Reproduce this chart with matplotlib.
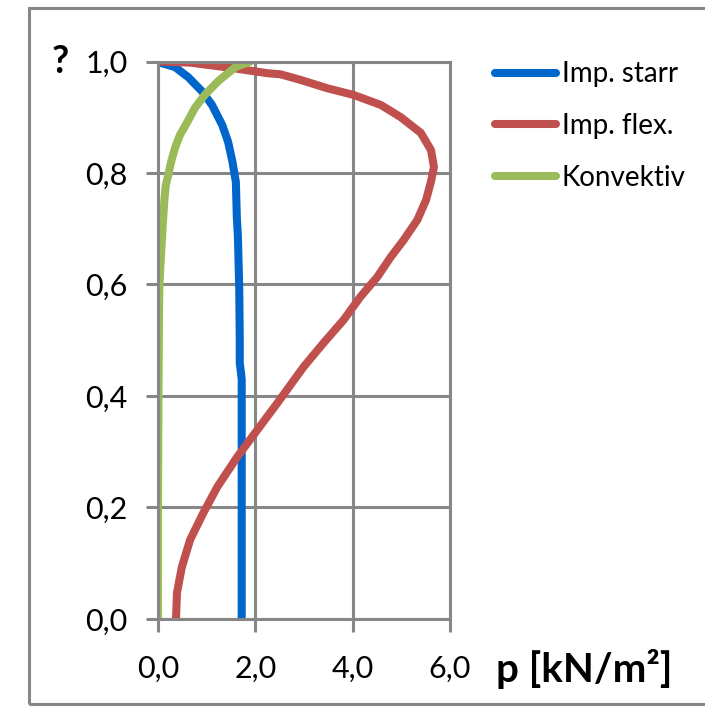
import matplotlib.pyplot as plt
from matplotlib.patches import Rectangle
from matplotlib.ticker import FuncFormatter

# values (p in kN/m², relative height)
starr_p = [1.72, 1.72, 1.72, 1.72, 1.68, 1.68, 1.67, 1.65, 1.64, 1.62, 1.60, 1.53, 1.44, 1.32, 1.11, 0.91, 0.62, 0.35, 0.04, 0.0]
starr_h = [0.0, 0.2, 0.34, 0.43, 0.46, 0.50, 0.59, 0.66, 0.69, 0.72, 0.784, 0.82, 0.856, 0.886, 0.922, 0.946, 0.972, 0.99, 0.998, 1.0]

flex_p = [0.37, 0.39, 0.49, 0.66, 0.93, 1.22, 1.63, 2.04, 2.45, 2.99, 3.40, 3.81, 4.16, 4.51, 4.78, 5.05, 5.33,
          5.51, 5.61, 5.67, 5.61, 5.40, 4.99, 4.58, 4.02, 3.48, 2.93, 2.52, 2.25, 1.55, 0.66, 0.0]
flex_h = [0.0, 0.047, 0.093, 0.142, 0.19, 0.237, 0.291, 0.339, 0.387, 0.452, 0.495, 0.536, 0.578, 0.614, 0.649, 0.68, 0.716,
          0.752, 0.785, 0.811, 0.841, 0.872, 0.90, 0.922, 0.94, 0.952, 0.967, 0.977, 0.979, 0.988, 0.998, 1.0]

konv_p = [0.0, 0.0, 0.01, 0.02, 0.03, 0.06, 0.10, 0.13, 0.16, 0.21, 0.27, 0.35, 0.45, 0.60, 0.76, 0.97, 1.24, 1.59, 1.90]
konv_h = [0.0, 0.2, 0.4, 0.55, 0.60, 0.65, 0.71, 0.75, 0.778, 0.796, 0.82, 0.845, 0.868, 0.891, 0.917, 0.941, 0.965, 0.99, 1.0]

labels = ['Imp. starr', 'Imp. flex.', 'Konvektiv']
colors = ['#0066CC', '#C0504D', '#9BBB59']
x_ticks = [0, 2, 4, 6]
y_ticks = [0.0, 0.2, 0.4, 0.6, 0.8, 1.0]

plt.rcParams['font.family'] = ['Lato', 'DejaVu Sans']
grey = '#878787'
fs = 22

fig = plt.figure(figsize=(7.05, 7.07), dpi=100)
ax = fig.add_axes([0.2241, 0.1245, 0.4142, 0.7885])

for p, h, lab, c in zip([starr_p, flex_p, konv_p], [starr_h, flex_h, konv_h], labels, colors):
    ax.plot(p, h, color=c, lw=5.8, label=lab, solid_capstyle='round', solid_joinstyle='round')

ax.set_xlim(0, 6)
ax.set_ylim(0, 1)
ax.set_xticks(x_ticks)
ax.set_yticks(y_ticks)
fmt = FuncFormatter(lambda v, pos: f'{v:.1f}'.replace('.', ','))
ax.xaxis.set_major_formatter(fmt)
ax.yaxis.set_major_formatter(fmt)
ax.grid(True, color=grey, lw=2.2)
ax.set_axisbelow(True)
for s in ax.spines.values():
    s.set_color(grey)
    s.set_linewidth(2.2)
ax.tick_params(axis='both', length=9, width=2.2, color=grey, labelsize=fs)
ax.tick_params(axis='y', pad=13)
ax.tick_params(axis='x', pad=17)

fig.text(0.085, 0.912, '?', fontsize=27, fontweight='bold', ha='center', va='center')
fig.text(0.703, 0.054, 'p [kN/m²]', fontsize=29, fontweight='bold', ha='left', va='center')

fig.legend(loc='upper left', bbox_to_anchor=(0.6865, 0.929), frameon=False, fontsize=20,
           handlelength=2.2, handletextpad=0.2, labelspacing=0.93, borderaxespad=0)

fig.patches.append(Rectangle((29 / 705, 0.0042), 1.0, 0.9845, transform=fig.transFigure,
                             fill=False, edgecolor=grey, lw=2.2))

fig.savefig('out.png', dpi=100)
